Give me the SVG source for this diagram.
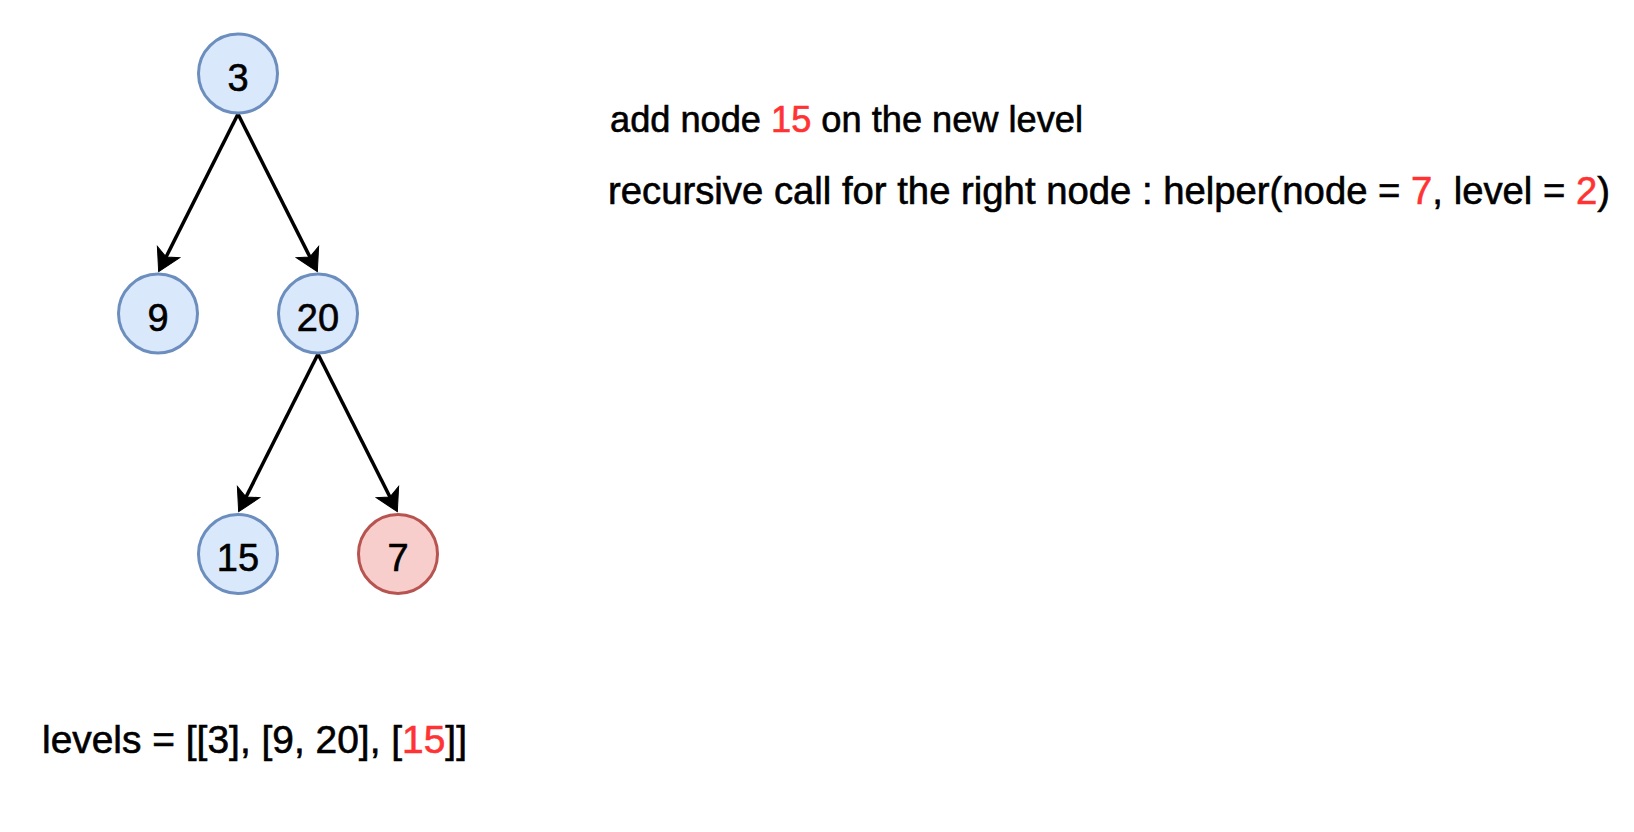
<svg xmlns="http://www.w3.org/2000/svg" width="1634" height="832" viewBox="0 0 1634 832">
<style>
.bg{fill:#ffffff}
.nb{fill:#dae8fc;stroke:#6c8ebf;stroke-width:3}
.nr{fill:#f8cecc;stroke:#b85450;stroke-width:3}
.t{font-family:"Comic Sans MS","Liberation Sans",sans-serif;font-size:38px;fill:#000000;stroke:#000000;stroke-width:0.6}
.s36{font-size:36px}
.nt{text-anchor:middle}
.red{fill:#ff3333;stroke:#ff3333}
.e{stroke:#000000;stroke-width:3.5;fill:none;marker-end:url(#arr)}
</style>
<defs>
<marker id="arr" viewBox="-24 -14 26 28" refX="-15" refY="0" markerWidth="26" markerHeight="28" markerUnits="userSpaceOnUse" orient="auto">
<path d="M0,0 L-22,-12.5 L-16.5,0 L-22,12.5 Z" fill="#000000" stroke="#000000" stroke-width="1"/>
</marker>
</defs>
<rect class="bg" x="0" y="0" width="1634" height="832"/>
<g id="connectors">
<line class="e" x1="238" y1="114" x2="165.4" y2="258.3"/>
<line class="e" x1="238" y1="114" x2="310.6" y2="258.3"/>
<line class="e" x1="318" y1="354" x2="245.4" y2="498.3"/>
<line class="e" x1="318" y1="354" x2="390.6" y2="498.3"/>
</g>
<g id="node3"><circle class="nb" cx="238" cy="73.5" r="39.5"/><text class="t nt" x="238" y="90.7">3</text></g>
<g id="node9"><circle class="nb" cx="158" cy="313.5" r="39.5"/><text class="t nt" x="158" y="330.5">9</text></g>
<g id="node20"><circle class="nb" cx="318" cy="313.5" r="39.5"/><text class="t nt" x="318" y="330.5">20</text></g>
<g id="node15"><circle class="nb" cx="238" cy="554" r="39.5"/><text class="t nt" x="238" y="570.5">15</text></g>
<g id="node7"><circle class="nr" cx="398" cy="554" r="39.5"/><text class="t nt" x="398" y="570.5">7</text></g>
<g id="texts">
<text class="t s36" x="610" y="132" textLength="473" lengthAdjust="spacingAndGlyphs">add node <tspan class="red">15</tspan> on the new level</text>
<text class="t" x="608" y="204" textLength="1002" lengthAdjust="spacingAndGlyphs">recursive call for the right node : helper(node = <tspan class="red">7</tspan>, level = <tspan class="red">2</tspan>)</text>
<text class="t" x="42" y="753" textLength="425" lengthAdjust="spacingAndGlyphs">levels = [[3], [9, 20], [<tspan class="red">15</tspan>]]</text>
</g>
</svg>
